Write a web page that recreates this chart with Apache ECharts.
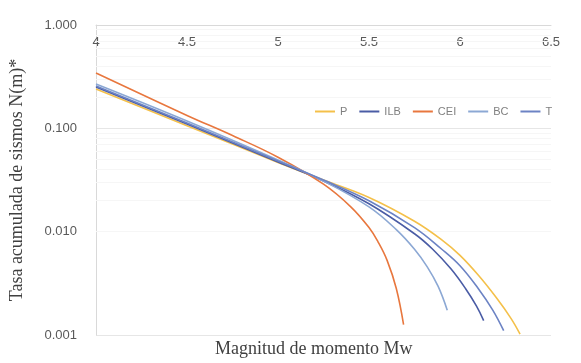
<!DOCTYPE html>
<html>
<head>
<meta charset="utf-8">
<script src="https://cdn.jsdelivr.net/npm/echarts@6/dist/echarts.min.js"></script>
<style>
  html, body { margin: 0; padding: 0; background: #ffffff; }
  #chart { width: 581px; height: 363px; }
</style>
</head>
<body>
<div id="chart"></div>
<script>
// Cumulative earthquake rate N(m) versus moment magnitude for five source models
const magTicks = [4, 4.5, 5, 5.5, 6, 6.5];
const rateTicks = [0.001, 0.01, 0.1, 1];
const minorRates = [0.002, 0.003, 0.004, 0.005, 0.006, 0.007, 0.008, 0.009,
                    0.02, 0.03, 0.04, 0.05, 0.06, 0.07, 0.08, 0.09,
                    0.2, 0.3, 0.4, 0.5, 0.6, 0.7, 0.8, 0.9];

const seriesNames = ['P', 'ILB', 'CEI', 'BC', 'T'];

const magP   = [4.00, 4.50, 5.00, 5.25, 5.50, 5.75, 5.90, 6.00, 6.10, 6.20, 6.28, 6.33];
const rateP  = [0.240, 0.106, 0.0468, 0.0316, 0.0214, 0.0126, 0.00832, 0.00589, 0.0038, 0.00229, 0.00145, 0.00102];

const magILB  = [4.00, 4.50, 5.00, 5.25, 5.50, 5.75, 5.85, 5.95, 6.03, 6.09, 6.13];
const rateILB = [0.251, 0.110, 0.0472, 0.0309, 0.0186, 0.00955, 0.00676, 0.00437, 0.00282, 0.00191, 0.00138];

const magCEI  = [4.00, 4.50, 4.75, 5.00, 5.25, 5.40, 5.50, 5.55, 5.60, 5.65, 5.69];
const rateCEI = [0.343, 0.1334, 0.0851, 0.0525, 0.0288, 0.0174, 0.01096, 0.00794, 0.00525, 0.00282, 0.00126];

const magBC  = [4.00, 4.50, 5.00, 5.25, 5.50, 5.65, 5.75, 5.82, 5.88, 5.93];
const rateBC = [0.2685, 0.1177, 0.0493, 0.0309, 0.01738, 0.01047, 0.00676, 0.00457, 0.00295, 0.00174];

const magT  = [4.00, 4.50, 5.00, 5.25, 5.50, 5.75, 5.90, 6.00, 6.10, 6.18, 6.24];
const rateT = [0.2567, 0.1125, 0.0482, 0.0316, 0.01995, 0.01096, 0.00676, 0.00468, 0.00282, 0.00174, 0.0011];

const colors = {
  P: '#F4C04A',
  ILB: '#4A5CA5',
  CEI: '#E8773E',
  BC: '#8CA8D4',
  T: '#6C83C4'
};

function pairs(xs, ys) {
  return xs.map((x, i) => [x, ys[i]]);
}

const dataByName = {
  P: pairs(magP, rateP),
  ILB: pairs(magILB, rateILB),
  CEI: pairs(magCEI, rateCEI),
  BC: pairs(magBC, rateBC),
  T: pairs(magT, rateT)
};

const series = seriesNames.map((name, idx) => {
  const s = {
    name: name,
    type: 'line',
    data: dataByName[name],
    smooth: 0.4,
    showSymbol: false,
    symbol: 'none',
    lineStyle: { width: 1.6, color: colors[name] },
    itemStyle: { color: colors[name] },
    z: 3 + idx
  };
  if (idx === 0) {
    // faint minor gridlines inside each decade
    s.markLine = {
      silent: true,
      symbol: ['none', 'none'],
      label: { show: false },
      lineStyle: { color: '#f6f6f6', width: 1, type: 'solid' },
      emphasis: { disabled: true },
      z: 1,
      data: minorRates.map(v => ({ yAxis: v }))
    };
  }
  return s;
});

const chart = echarts.init(document.getElementById('chart'), null, { renderer: 'canvas' });
chart.setOption({
  animation: false,
  backgroundColor: '#ffffff',
  grid: { left: 86, right: 30, top: 25, bottom: 28, containLabel: false },
  legend: {
    data: seriesNames,
    top: 101,
    left: 310,
    itemWidth: 20,
    itemHeight: 2,
    itemGap: 12,
    icon: 'rect',
    textStyle: { color: '#7f7f7f', fontSize: 11, fontFamily: 'Liberation Sans' }
  },
  xAxis: {
    type: 'value',
    position: 'top',
    min: magTicks[0],
    max: magTicks[magTicks.length - 1],
    interval: 0.5,
    axisLine: { show: true, lineStyle: { color: '#d9d9d9', width: 1 } },
    axisTick: { show: false },
    splitLine: { show: false },
    axisLabel: {
      inside: true,
      margin: 11,
      color: '#595959',
      fontSize: 13,
      fontFamily: 'Liberation Sans',
      formatter: v => String(v)
    }
  },
  yAxis: {
    type: 'log',
    logBase: 10,
    min: rateTicks[0],
    max: rateTicks[rateTicks.length - 1],
    name: 'Tasa acumulada de sismos N(m)*',
    nameLocation: 'middle',
    nameRotate: 90,
    nameGap: 70,
    nameTextStyle: { color: '#404040', fontSize: 18, fontFamily: 'Liberation Serif' },
    axisLine: { show: true, lineStyle: { color: '#d9d9d9', width: 1 } },
    axisTick: { show: false },
    splitLine: { show: true, lineStyle: { color: '#e6e6e6', width: 1 } },
    axisLabel: {
      margin: 19,
      color: '#595959',
      fontSize: 13,
      fontFamily: 'Liberation Sans',
      formatter: v => Number(v).toFixed(3)
    }
  },
  graphic: [{
    type: 'text',
    left: 215,
    top: 340,
    style: {
      text: 'Magnitud de momento Mw',
      fill: '#404040',
      font: '18px "Liberation Serif"'
    }
  }],
  series: series
});
</script>
</body>
</html>
